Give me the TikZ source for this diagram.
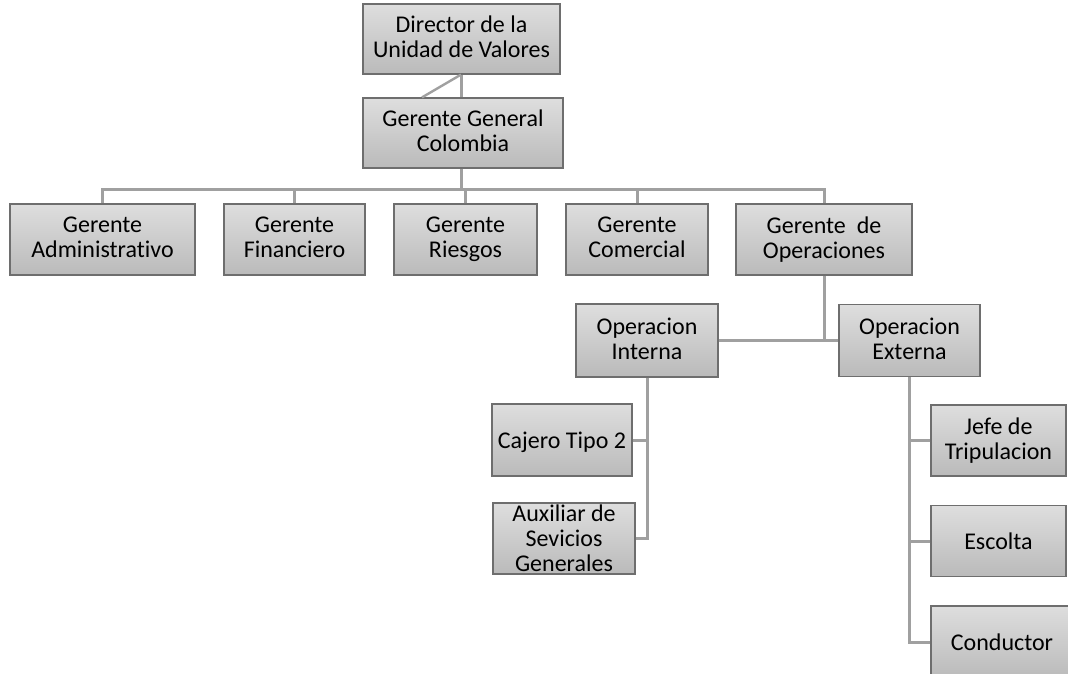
\documentclass[tikz,border=0pt]{standalone}
\usepackage{fontspec}
\setmainfont{Carlito}[Ligatures=CommonOff]
\definecolor{boxtop}{RGB}{222,222,222}
\definecolor{boxbot}{RGB}{186,186,186}
\definecolor{boxline}{RGB}{110,110,110}
\definecolor{conn}{RGB}{160,160,160}
\newcommand{\boxstrut}{\rule[-4.5pt]{0pt}{25pt}}
\begin{document}
\begin{tikzpicture}[x=1pt,y=-1pt,
  box/.style={draw=boxline,line width=1.2pt,top color=boxtop,bottom color=boxbot,
    inner sep=0pt,align=center,font=\fontsize{24}{25}\selectfont,
    execute at begin node=\boxstrut, execute at end node=\boxstrut},
  link/.style={draw=conn,line width=3pt}]
\clip (0,0) rectangle (1068,674);
\useasboundingbox (0,0) rectangle (1068,674);
% top
\node[box,minimum width=197,minimum height=70] (dir) at (461.5,39) {Director de la\\Unidad de Valores};
\node[box,minimum width=200,minimum height=70] (gg) at (463,133) {Gerente General\\Colombia};
% managers
\node[box,minimum width=185,minimum height=71] (adm) at (102.5,239.5) {Gerente\\Administrativo};
\node[box,minimum width=141,minimum height=71] (fin) at (294.5,239.5) {Gerente\\Financiero};
\node[box,minimum width=143,minimum height=71] (rie) at (465.5,239.5) {Gerente\\Riesgos};
\node[box,minimum width=142,minimum height=71] (com) at (637,239.5) {Gerente\\Comercial};
\node[box,minimum width=176,minimum height=71] (ope) at (824,239.5) {Gerente~ de\\Operaciones};
% operations
\node[box,minimum width=142,minimum height=73] (oi) at (647,340.5) {Operacion\\Interna};
\node[box,minimum width=141,minimum height=72] (oe) at (909.5,340.5) {Operacion\\Externa};
\node[box,minimum width=140,minimum height=72] (caj) at (562,440) {Cajero Tipo 2};
\node[box,minimum width=142,minimum height=71,text height=0pt,text depth=0pt,
  execute at begin node={},execute at end node={}] (aux) at (564,538.5) {};
\node[align=center,font=\fontsize{24}{25}\selectfont,inner sep=0pt] (auxt) at (aux.center) {\boxstrut Auxiliar de\\Sevicios\\Generales\boxstrut};
\node[box,minimum width=135,minimum height=71] (jef) at (998.5,440.5) {Jefe de\\Tripulacion};
\node[box,minimum width=135,minimum height=71] (esc) at (998.5,541) {Escolta};
\node[box,minimum width=142,minimum height=72] (con) at (1002,642) {Conductor};
% connectors
\coordinate (bus) at (461,189);
\draw[link] (dir.south -| bus) -- (gg.north -| bus);
\draw[link,line width=2.4pt] (dir.south -| bus) -- ([xshift=-41pt]gg.north);
\draw[link] (gg.south -| bus) -- (bus);
\draw[link] (adm.north) |- (bus) -| (ope.north);
\draw[link] (fin.north) -- (fin.north |- bus);
\draw[link] (rie.north) -- (rie.north |- bus);
\draw[link] (com.north) -- (com.north |- bus);
\coordinate (ojoin) at (ope.south |- oi.east);
\draw[link] (ope.south) -- (ojoin);
\draw[link] (oi.east) -- (oe.west);
\coordinate (ibus) at (oi.south |- aux.east);
\draw[link] (oi.south) -- (ibus) -- (aux.east);
\draw[link] (caj.east) -- (caj.east -| ibus);
\coordinate (ebus) at (oe.south |- con.west);
\draw[link] (oe.south) -- (ebus) -- (con.west);
\draw[link] (jef.west) -- (jef.west -| ebus);
\draw[link] (esc.west) -- (esc.west -| ebus);
\end{tikzpicture}
\end{document}
